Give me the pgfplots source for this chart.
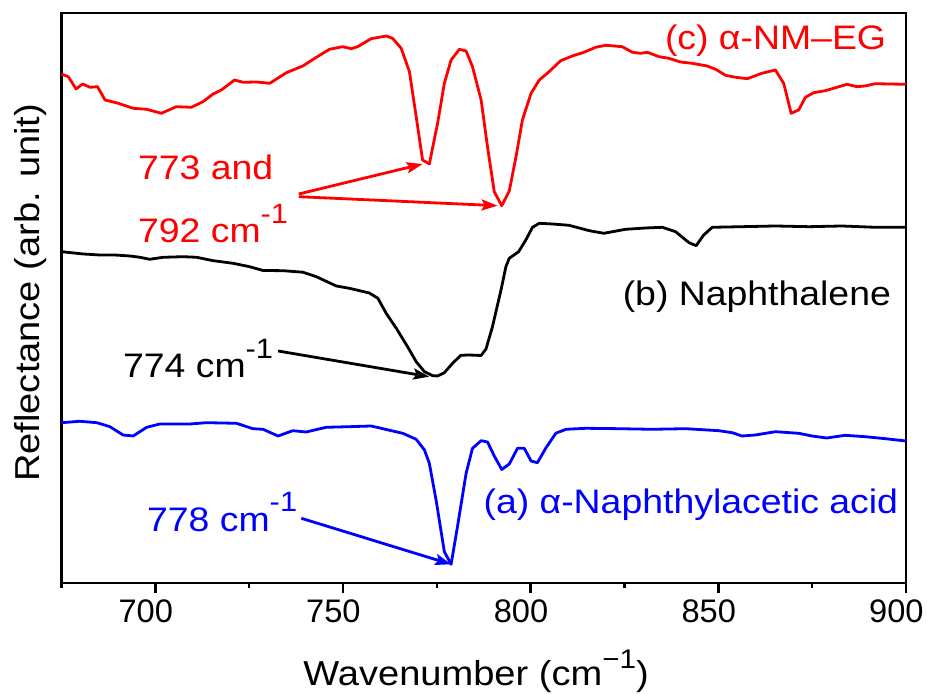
\documentclass[border=0pt]{standalone}
\usepackage{fontspec}
\setmainfont{Liberation Sans}
\newfontfamily\annfont[FakeStretch=1.1]{Liberation Sans}
\usepackage{pgfplots}
\pgfplotsset{compat=1.18}
\usetikzlibrary{arrows.meta}
\definecolor{cred}{RGB}{255,0,0}
\definecolor{cblue}{RGB}{0,0,255}
\newcommand{\invcm}{\raisebox{0.58em}{\fontsize{14}{16}\selectfont -1}}
\tikzset{
 annot/.style={inner sep=0pt, font=\annfont\fontsize{17}{20}\selectfont},
 arr/.style={line width=1.4pt, -{Stealth[length=8pt,width=5.5pt,inset=1.5pt]}},
}
\begin{document}
\begin{tikzpicture}
\begin{axis}[
 scale only axis, width=422.25pt, height=285pt,
 xmin=675, xmax=900, ymin=0, ymax=570,
 axis line style={line width=1.4pt},
 xtick={700,750,...,900}, minor xtick={675,725,...,875},
 ytick=\empty,
 xtick pos=bottom, tick align=outside,
 major tick length=5pt, minor tick length=2.5pt,
 every tick/.style={black, line width=1.2pt},
 /pgf/number format/assume math mode=true,
 /pgf/number format/1000 sep={},
 ticklabel style={font=\fontsize{16.3}{19}\selectfont},
 xticklabel style={xshift=-4.8pt},
 xlabel={Wavenumber (cm\raisebox{0.5em}{\fontsize{13.5}{15}\selectfont −1})},
 ylabel={Reflectance (arb. unit)},
 label style={font=\annfont\fontsize{17.3}{20}\selectfont},
 xlabel style={at={(axis description cs:0.491,-0.1807)}, anchor=base},
 ylabel style={at={(axis description cs:-0.026,0.509)}, anchor=base},
 clip=false,
 every axis plot/.append style={line width=1.4pt, line join=round},
]
% (c) alpha-NM-EG
\addplot[cred] coordinates {(675,509)(676.8,506.3)(678.9,494)(680.6,499)(682.6,495.7)(684.6,496.3)(686.6,483)(690.1,479.7)(694.1,474.7)(697.7,473.7)(701.6,469.7)(705.6,476.3)(709.6,475.7)(712.7,481.3)(715.4,489)(717.6,493)(721.1,503)(723.4,500.7)(726.9,501)(730.5,499.7)(734.9,510.3)(739.3,517)(742.9,525.7)(746.4,533.7)(749.9,536.3)(752.2,534.3)(753.9,536.3)(757.5,544.3)(761.5,547)(763.2,544.7)(765.5,534.7)(767.7,511.3)(769.5,466.3)(771.2,423)(773.0,419)(775.2,459.7)(777.0,499.7)(778.8,523)(781.0,533.7)(782.8,532)(784.5,516.3)(786.8,483)(788.5,436.3)(790.3,391.3)(792.3,377.3)(794.3,392)(796.1,426.3)(797.8,463)(800.1,489.7)(802.3,503)(804.9,511.3)(808.0,522.3)(811.1,527)(814.2,530.7)(817.3,535.7)(820.0,537.7)(824.4,536.3)(827.1,530.7)(829.3,529.7)(831.1,530.7)(834.2,526.3)(836.8,524.7)(839.9,521)(843.0,519.7)(847.0,517)(849.3,513.7)(851.9,507.7)(854.6,505.7)(857.7,504.3)(861.6,509.7)(865.2,513)(867.4,499.7)(869.4,469.7)(871.4,473)(873.2,485.7)(875.4,490.3)(878.5,492.3)(881.6,495.7)(884.3,498.7)(886.9,496.3)(889.1,497)(891.8,499.3)(895.3,499)(900,498.7)};
% (b) Naphthalene
\addplot[black] coordinates {(675,331.3)(680.8,329)(685.2,328)(689.2,328)(693.2,327)(695.9,325.7)(698.5,323.7)(702.1,325.7)(707.4,326.3)(711.0,325.7)(715.4,322.3)(720.7,319.7)(725.1,316.3)(728.7,312.5)(734.0,312.3)(739.3,310.8)(742.9,306.3)(748.2,297)(751.7,294.7)(757.0,290)(759.3,284.7)(761.5,269.7)(764.2,254.7)(767.2,236.3)(769.5,221.3)(771.7,211.3)(773.9,207.3)(775.2,207)(777.0,210.3)(779.2,219.7)(781.4,227.7)(783.6,228)(786.8,227.5)(788.1,234)(789.8,256)(792.1,293)(793.4,316.3)(794.3,324.7)(796.8,331.3)(798.7,343)(800.5,355.7)(802.3,359.7)(805.8,359)(810.2,357.7)(815.6,352.3)(819.5,349.7)(825.3,353.7)(830.6,355)(835.1,355.7)(838.6,351.3)(842.2,340.3)(844.1,337.3)(846.1,348)(848.4,355.7)(856.3,356.3)(865.2,357)(874.1,356.3)(882.9,357)(891.8,355.7)(900,355.7)};
% (a) alpha-Naphthylacetic acid
\addplot[cblue] coordinates {(675,160.3)(679.9,161.7)(684.4,160.3)(687.9,156.3)(691.4,148)(694.1,147)(697.7,155.7)(701.2,159)(709.2,159)(713.6,160.3)(721.6,159.7)(726.0,154.3)(728.7,153.7)(732.7,147)(736.6,152.3)(740.2,151)(745.5,155.7)(751.7,156.3)(757.5,157)(760.6,154.3)(765.9,149.7)(769.5,143.7)(771.7,133)(773.0,119.7)(774.8,83)(777.0,31.3)(778.8,18.7)(780.5,56.3)(782.8,109.7)(784.5,134.7)(786.8,142.3)(788.5,141)(790.3,127)(792.3,113.5)(794.3,119)(796.5,134.7)(798.3,134.7)(800.1,122)(801.8,120.3)(804.0,134.7)(806.7,149.7)(809.4,153.7)(814.7,154.7)(823.5,154.3)(832.4,153.7)(841.3,154.3)(850.1,152.3)(853.7,150.3)(856.3,147)(859.9,148)(865.2,151.3)(871.4,149.7)(874.9,147)(878.9,145)(883.8,147.7)(889.1,146.3)(894.5,144.3)(900,142)};
% annotations
\node[annot, cred, anchor=base east] at (axis cs:894.8,533) {(c) α-NM–EG};
\node[annot, cred, anchor=base west] at (axis cs:695.3,403) {773 and};
\node[annot, cred, anchor=base west] at (axis cs:695.3,340) {792 cm\invcm};
\draw[arr, cred] (axis cs:738.2,389) -- (axis cs:771.2,419);
\draw[arr, cred] (axis cs:738.2,386.3) -- (axis cs:791.2,377.3);
\node[annot, black, anchor=base west] at (axis cs:691.3,205) {774 cm\invcm};
\draw[arr, black] (axis cs:732.7,232) -- (axis cs:773.0,206.3);
\node[annot, black, anchor=base east] at (axis cs:896.1,277) {(b) Naphthalene};
\node[annot, cblue, anchor=base west] at (axis cs:697.7,51.3) {778 cm\invcm};
\draw[arr, cblue] (axis cs:738.9,64.7) -- (axis cs:778.8,18.7);
\node[annot, cblue, anchor=base east] at (axis cs:898,69.7) {(a) α-Naphthylacetic acid};
\end{axis}
\pgfresetboundingbox
\path (-30.75pt,-55.5pt) rectangle (432.75pt,291.5pt);
\end{tikzpicture}
\end{document}
